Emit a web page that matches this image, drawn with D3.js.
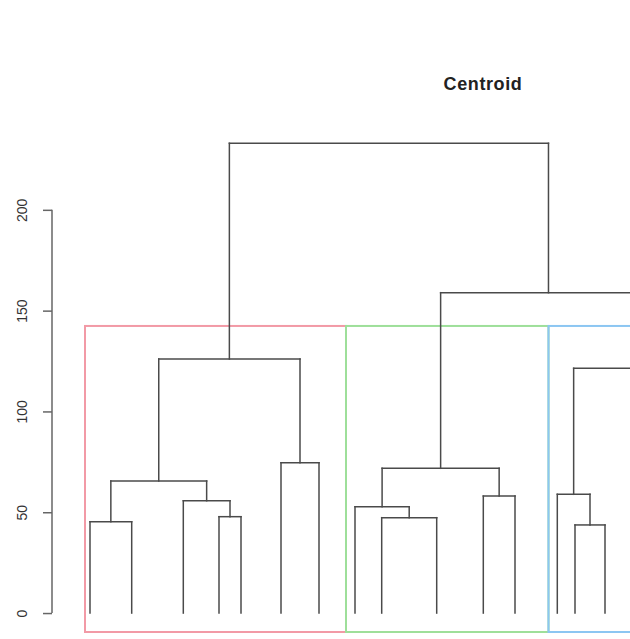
<!DOCTYPE html>
<html>
<head>
<meta charset="utf-8">
<script src="https://cdn.jsdelivr.net/npm/d3@7"></script>
<style>
  html, body { margin: 0; padding: 0; background: #fff; }
  svg { display: block; }
</style>
</head>
<body>
<div id="chart"></div>
<script>
// Leaf positions along the horizontal axis (leaf units); the last leaf lies past the right edge.
const leafNames = ["1", "2", "3", "4", "5", "6", "7", "8", "9", "10", "11", "12", "13", "14", "15", "16"];
const leafPos   = [5.0, 9.17, 14.33, 17.9, 20.1, 24.1, 27.9, 31.5, 34.17, 39.67, 44.33, 47.5, 51.73, 53.5, 56.5, 69.9];

// Merge table in hclust style: negative = leaf index, positive = earlier merge (1-based).
const mergeLeft   = [-1, -4, -3,  1, -6,  4, -9, -8, -11,  8, -14, -13, 12, 10, 6];
const mergeRight  = [-2, -5,  2,  3, -7,  5, -10, 7, -12,  9, -15,  11, -16, 13, 14];
const mergeHeight = [45.3, 47.8, 55.7, 65.5, 74.6, 126.0, 47.3, 52.7, 58.0, 71.8, 43.7, 58.9, 121.4, 158.9, 233.0];

// Cluster boxes cut from the tree.
const cutHeight = 142.4;
const clusterEdges = [4.5, 30.6, 50.85, 80];
const clusterColors = ["#f29aa6", "#9edf9a", "#8cc6f2"];

const yTicks = [0, 50, 100, 150, 200];
const yLimits = [-9.4, 233.0];
const titleText = "Centroid";

const width = 630, height = 639;

const svg = d3.select("#chart").append("svg")
  .attr("width", width)
  .attr("height", height)
  .style("font-family", "'Liberation Sans', Arial, Helvetica, sans-serif");

const x = d3.scaleLinear().domain([0, 59]).range([40, 630]);
const y = d3.scaleLinear().domain(yLimits).range([632, 143.3]);

// Build node positions: leaves from the table, merges at the midpoint of their children.
function nodeOf(ref) {
  if (ref < 0) return { x: leafPos[-ref - 1], h: 0, leaf: true };
  return nodes[ref - 1];
}
const nodes = [];
mergeHeight.forEach((h, i) => {
  const a = nodeOf(mergeLeft[i]);
  const b = nodeOf(mergeRight[i]);
  nodes.push({ x: (a.x + b.x) / 2, h: h, left: a, right: b, leaf: false });
});

// Cluster rectangles
const gRect = svg.append("g");
clusterColors.forEach((c, i) => {
  const x0 = x(clusterEdges[i]);
  const x1 = x(clusterEdges[i + 1]);
  gRect.append("rect")
    .attr("x", x0)
    .attr("y", y(cutHeight))
    .attr("width", x1 - x0)
    .attr("height", y(yLimits[0]) - y(cutHeight))
    .attr("fill", "none")
    .attr("stroke", c)
    .attr("stroke-width", 2);
});

// Dendrogram segments (elbow style)
const segs = [];
nodes.forEach(n => {
  segs.push([n.left.x, n.h, n.right.x, n.h]);
  segs.push([n.left.x, n.h, n.left.x, n.left.h]);
  segs.push([n.right.x, n.h, n.right.x, n.right.h]);
});
svg.append("g")
  .selectAll("line")
  .data(segs)
  .join("line")
  .attr("x1", d => x(d[0]))
  .attr("y1", d => y(d[1]))
  .attr("x2", d => x(d[2]))
  .attr("y2", d => y(d[3]))
  .attr("stroke", "#4a4a4a")
  .attr("stroke-width", 1.5)
  .attr("stroke-linecap", "square");

// Y axis
const axisX = 52;
const gAxis = svg.append("g")
  .attr("transform", `translate(${axisX},0)`)
  .call(d3.axisLeft(y).tickValues(yTicks).tickSize(9).tickSizeOuter(0));
gAxis.select(".domain").remove();
gAxis.append("line")
  .attr("x1", 0).attr("x2", 0)
  .attr("y1", y(yTicks[0])).attr("y2", y(yTicks[yTicks.length - 1]))
  .attr("stroke", "#666").attr("stroke-width", 1.5);
gAxis.selectAll(".tick line").attr("stroke", "#666").attr("stroke-width", 1.5);
gAxis.selectAll(".tick text")
  .attr("transform", "rotate(-90)")
  .attr("x", 0)
  .attr("y", -30)
  .attr("dy", "0.35em")
  .attr("text-anchor", "middle")
  .attr("fill", "#333")
  .style("font-size", "14px")
  .style("font-family", "'Liberation Sans', Arial, sans-serif");

// Title
svg.append("text")
  .attr("x", 483)
  .attr("y", 90)
  .attr("text-anchor", "middle")
  .style("font-size", "18px")
  .style("font-weight", "bold")
  .style("letter-spacing", "0.6px")
  .attr("fill", "#222")
  .text(titleText);
</script>
</body>
</html>
